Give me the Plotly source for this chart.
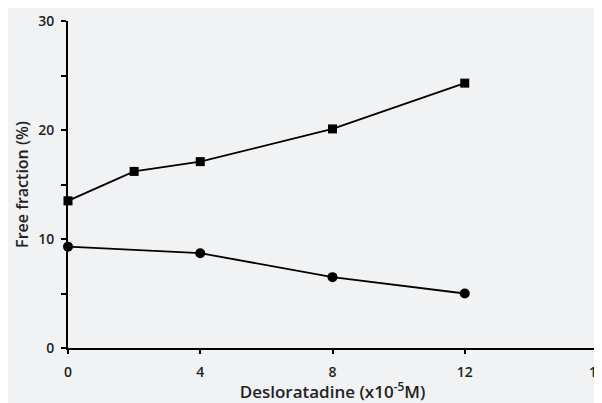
import plotly.graph_objects as go

sq_x = [0, 2, 4, 8, 12]
sq_y = [13.5, 16.2, 17.1, 20.1, 24.3]
ci_x = [0, 4, 8, 12]
ci_y = [9.3, 8.7, 6.5, 5.0]

x_ticks = [0, 4, 8, 12, 16]
y_ticks = [0, 10, 20, 30]

bg = "#f1f2f4"
fnt = "Open Sans, Liberation Sans, sans-serif"
tc = "#222222"

fig = go.Figure()
fig.add_trace(go.Scatter(x=sq_x, y=sq_y, mode="lines+markers",
                         line=dict(color="black", width=1.8),
                         marker=dict(symbol="square", size=9, color="black"),
                         cliponaxis=False, showlegend=False))
fig.add_trace(go.Scatter(x=ci_x, y=ci_y, mode="lines+markers",
                         line=dict(color="black", width=1.8),
                         marker=dict(symbol="circle", size=10, color="black"),
                         cliponaxis=False, showlegend=False))

fig.update_layout(
    width=594, height=395,
    margin=dict(l=60, r=5, t=13, b=55),
    paper_bgcolor=bg, plot_bgcolor=bg,
    font=dict(family=fnt, color=tc),
    xaxis=dict(range=[0, 16], tickvals=x_ticks, showgrid=False, zeroline=False,
               automargin=False, ticklabeloverflow="allow",
               showline=True, linecolor="black", linewidth=2,
               ticks="outside", ticklen=4, tickwidth=1.5, tickcolor="black",
               ticklabelstandoff=6,
               tickfont=dict(size=14, color=tc, weight=600),
               title=dict(text="Desloratadine (x10<sup>-5</sup>M)",
                          font=dict(size=17, color=tc, weight=600), standoff=2)),
    yaxis=dict(range=[0, 30], tickvals=y_ticks, showgrid=False, zeroline=False,
               automargin=False, ticklabeloverflow="allow",
               showline=True, linecolor="black", linewidth=2,
               ticks="outside", ticklen=5, tickwidth=1.5, tickcolor="black",
               ticklabelstandoff=4,
               tickfont=dict(size=14, color=tc, weight=600),
               minor=dict(tickvals=[5, 15, 25], ticks="outside", ticklen=5,
                          tickwidth=1.5, tickcolor="black", showgrid=False),
               title=dict(text="Free fraction (%)",
                          font=dict(size=16, color=tc, weight=600), standoff=6)),
)

fig.write_html("out.html")
